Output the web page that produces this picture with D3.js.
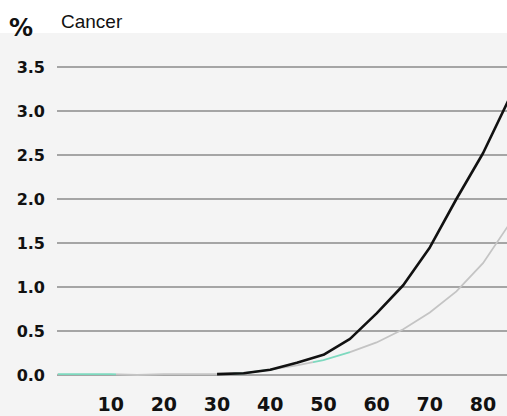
<!DOCTYPE html>
<html>
<head>
<meta charset="utf-8">
<script src="https://cdn.jsdelivr.net/npm/d3@7"></script>
<style>
  body { margin: 0; background: #ffffff; }
</style>
</head>
<body>
<div id="graph"></div>
<script>
// values
var ages = [0, 5, 10, 15, 20, 25, 30, 35, 40, 45, 50, 55, 60, 65, 70, 75, 80, 85];
var men = [null, null, null, null, null, null, 0.01, 0.02, 0.06, 0.14, 0.23, 0.41, 0.70, 1.02, 1.45, 2.00, 2.52, 3.15];
var women = [0.01, 0.01, 0.01, 0.00, 0.01, 0.01, 0.01, 0.02, 0.06, 0.11, 0.17, 0.26, 0.37, 0.52, 0.71, 0.95, 1.27, 1.72];
var yTicks = [0, 0.5, 1, 1.5, 2, 2.5, 3, 3.5];
var xTicks = [10, 20, 30, 40, 50, 60, 70, 80];
// stretches of the women's line that show up green-ish
var tealSpans = [[0, 11], [33, 41], [48, 55]];

var width = 507, height = 416;

var svg = d3.select('#graph')
  .append('svg')
  .attr('width', width)
  .attr('height', height);

svg.append('rect').attr('x', 0).attr('y', 33).attr('width', width).attr('height', height - 33)
  .attr('fill', '#f4f4f4');

var x = d3.scaleLinear().domain([0, 80]).range([57.5, 483]);
var y = d3.scaleLinear().domain([0, 3.5]).range([375, 67]);

// grid
svg.append('g').selectAll('line')
  .data(yTicks)
  .enter().append('line')
  .attr('x1', 57).attr('x2', width)
  .attr('y1', d => y(d)).attr('y2', d => y(d))
  .attr('stroke', '#575757')
  .attr('stroke-width', 1);

// y labels
svg.append('g').selectAll('text')
  .data(yTicks)
  .enter().append('text')
  .attr('x', 45).attr('y', d => y(d))
  .attr('dy', '0.36em')
  .attr('text-anchor', 'end')
  .style('font-family', 'DejaVu Sans')
  .style('font-weight', 'bold')
  .style('font-size', '16px')
  .style('fill', '#111')
  .text(d => d.toFixed(1));

// x labels
svg.append('g').selectAll('text')
  .data(xTicks)
  .enter().append('text')
  .attr('x', d => x(d)).attr('y', 411)
  .attr('text-anchor', 'middle')
  .style('font-family', 'DejaVu Sans')
  .style('font-weight', 'bold')
  .style('font-size', '19px')
  .style('fill', '#111')
  .text(d => d);

svg.append('text').attr('x', 9).attr('y', 36)
  .style('font-family', 'DejaVu Sans').style('font-weight', 'bold').style('font-size', '24px')
  .style('fill', '#111').text('%');

svg.append('text').attr('x', 61).attr('y', 28)
  .style('font-family', 'Liberation Sans').style('font-size', '19px')
  .style('fill', '#111').text('Cancer');

svg.append('defs').append('clipPath').attr('id', 'plot')
  .append('rect').attr('x', 57).attr('y', 0).attr('width', width - 57).attr('height', height);

// gradient for the women's line
var grad = svg.select('defs').append('linearGradient')
  .attr('id', 'wgrad')
  .attr('gradientUnits', 'userSpaceOnUse')
  .attr('x1', x(0)).attr('x2', x(85)).attr('y1', 0).attr('y2', 0);
var span = x(85) - x(0);
tealSpans.forEach(function(s) {
  var a = (x(s[0]) - x(0)) / span, b = (x(s[1]) - x(0)) / span;
  grad.append('stop').attr('offset', a).attr('stop-color', '#c4c4c4');
  grad.append('stop').attr('offset', a).attr('stop-color', '#7ed9bf');
  grad.append('stop').attr('offset', b).attr('stop-color', '#7ed9bf');
  grad.append('stop').attr('offset', b).attr('stop-color', '#c4c4c4');
});

var line = d3.line()
  .defined(d => d[1] != null)
  .x(d => x(d[0]))
  .y(d => y(d[1]));

var g = svg.append('g').attr('clip-path', 'url(#plot)');

g.append('path')
  .datum(ages.map((a, i) => [a, women[i]]))
  .attr('d', line)
  .attr('fill', 'none')
  .attr('stroke', 'url(#wgrad)')
  .attr('stroke-width', 1.8);

g.append('path')
  .datum(ages.map((a, i) => [a, men[i]]))
  .attr('d', line)
  .attr('fill', 'none')
  .attr('stroke', '#111')
  .attr('stroke-width', 2.6)
  .attr('stroke-linejoin', 'round');
</script>
</body>
</html>
